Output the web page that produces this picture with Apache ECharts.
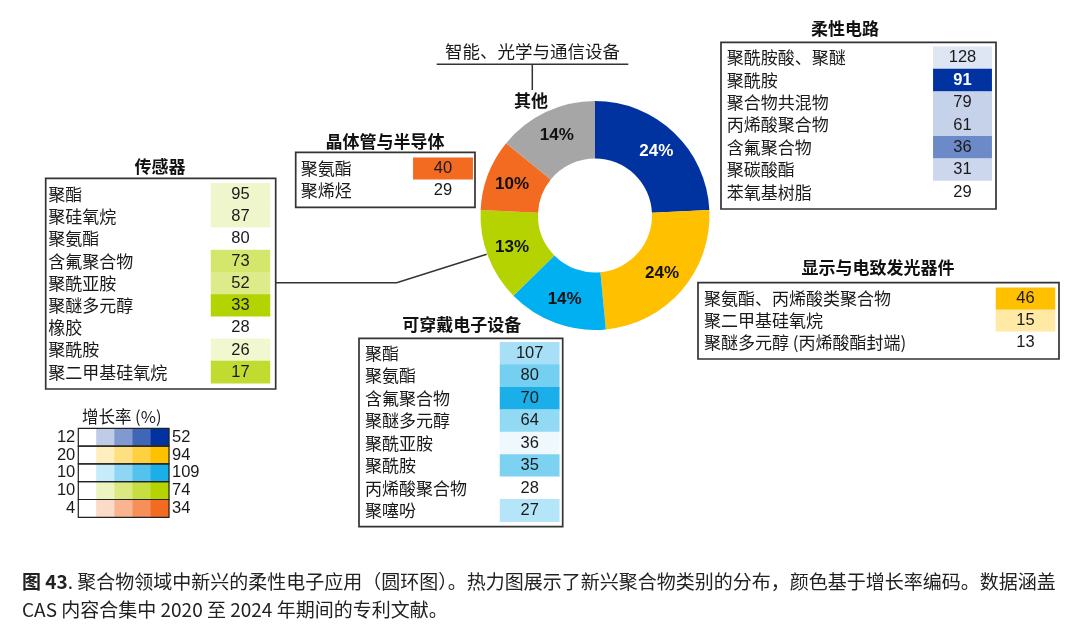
<!DOCTYPE html>
<html lang="zh">
<head>
<meta charset="UTF-8">
<title>聚合物领域中新兴的柔性电子应用</title>
<style>
  * { margin: 0; padding: 0; }
  body { background: #fff; }
  #chart { width: 1080px; height: 631px; }
</style>
</head>
<body>
<div id="chart"></div>
<script src="https://cdn.jsdelivr.net/npm/echarts@6/dist/echarts.min.js"></script>
<script>
// ---- data ----
var donutNames = ['柔性电路', '显示与电致发光器件', '可穿戴电子设备', '传感器', '晶体管与半导体', '其他'];
var donutShares = [24, 24, 14, 13, 10, 14];

var sensorNames = ['聚酯', '聚硅氧烷', '聚氨酯', '含氟聚合物', '聚酰亚胺', '聚醚多元醇', '橡胶', '聚酰胺', '聚二甲基硅氧烷'];
var sensorCounts = [95, 87, 80, 73, 52, 33, 28, 26, 17];
var sensorGrowth = [23, 23, 10, 47, 39, 74, 10, 22, 62];

var transistorNames = ['聚氨酯', '聚烯烃'];
var transistorCounts = [40, 29];
var transistorGrowth = [34, 4];

var flexNames = ['聚酰胺酸、聚醚', '聚酰胺', '聚合物共混物', '丙烯酸聚合物', '含氟聚合物', '聚碳酸酯', '苯氧基树脂'];
var flexCounts = [128, 91, 79, 61, 36, 31, 29];
var flexGrowth = [17, 52, 21, 21, 35, 20, 12];

var displayNames = ['聚氨酯、丙烯酸类聚合物', '聚二甲基硅氧烷', '聚醚多元醇 (丙烯酸酯封端)'];
var displayCounts = [46, 15, 13];
var displayGrowth = [94, 46, 20];

var wearableNames = ['聚酯', '聚氨酯', '含氟聚合物', '聚醚多元醇', '聚酰亚胺', '聚酰胺', '丙烯酸聚合物', '聚噻吩'];
var wearableCounts = [107, 80, 70, 64, 36, 35, 28, 27];
var wearableGrowth = [48, 70, 109, 57, 17, 66, 10, 42];

// growth-rate scale per field (legend rows: flex, display, wearable, sensor, transistor)
var growthMin = [12, 20, 10, 10, 4];
var growthMax = [52, 94, 109, 74, 34];

var caption1 = '图 43';
var caption2 = '. 聚合物领域中新兴的柔性电子应用（圆环图）。热力图展示了新兴聚合物类别的分布，颜色基于增长率编码。数据涵盖';
var caption3 = 'CAS 内容合集中 2020 至 2024 年期间的专利文献。';

// ---- styles ----
var sliceColors = ['#0033A0', '#FFC000', '#00B0F0', '#B4D300', '#F26B21', '#A6A6A6'];
var rampEnd = ['#0033A0', '#FFC000', '#1AAFE8', '#B4D300', '#F26B21'];
var CJK = '"Noto Sans CJK SC", sans-serif';
var NUM = '"Liberation Sans", Arial, sans-serif';
var INK = '#1a1a1a';

var tables = [
  { title: '传感器', names: sensorNames, counts: sensorCounts, growth: sensorGrowth, scale: 3,
    box: [45.7, 178.3, 230, 210.7], cell: [211, 183.3, 59, 200], nameX: 48.3, titleAt: [160, 167] },
  { title: '晶体管与半导体', names: transistorNames, counts: transistorCounts, growth: transistorGrowth, scale: 4,
    box: [295.7, 152.3, 179.3, 55], cell: [413.3, 157.7, 59.4, 44], nameX: 300.7, titleAt: [385, 141.7] },
  { title: '柔性电路', names: flexNames, counts: flexCounts, growth: flexGrowth, scale: 0,
    box: [721, 42.3, 275, 166.7], cell: [933.3, 46.7, 58.4, 156.6], nameX: 726.7, titleAt: [845, 28.3] },
  { title: '显示与电致发光器件', names: displayNames, counts: displayCounts, growth: displayGrowth, scale: 1,
    box: [698, 282.7, 361, 76.3], cell: [996, 287.7, 59, 66], nameX: 704, titleAt: [878, 268] },
  { title: '可穿戴电子设备', names: wearableNames, counts: wearableCounts, growth: wearableGrowth, scale: 2,
    box: [359, 338.3, 203.7, 188.4], cell: [500, 342.3, 59.3, 179.4], nameX: 365, titleAt: [461.7, 325] }
];

var legendBox = [78.3, 428.3, 90.7, 89];

var chart = echarts.init(document.getElementById('chart'));

var grids = [], xAxes = [], yAxes = [], series = [], graphics = [];

tables.forEach(function (t, ti) {
  grids.push({ left: t.cell[0], top: t.cell[1], width: t.cell[2], height: t.cell[3] });
  xAxes.push({ type: 'category', gridIndex: ti, data: [''], show: false });
  yAxes.push({
    type: 'category', gridIndex: ti, data: t.names, inverse: true,
    axisLine: { show: false }, axisTick: { show: false }, splitLine: { show: false },
    axisLabel: { interval: 0, align: 'left', margin: t.cell[0] - t.nameX, fontSize: 17, color: INK, fontFamily: CJK }
  });
  var data = t.names.map(function (n, i) {
    var item = { value: [0, i, t.growth[i], t.counts[i]] };
    var frac = (t.growth[i] - growthMin[t.scale]) / (growthMax[t.scale] - growthMin[t.scale]);
    if (t.scale === 0 && frac > 0.7) item.label = { color: '#fff', fontWeight: 'bold' };
    return item;
  });
  series.push({
    type: 'heatmap', xAxisIndex: ti, yAxisIndex: ti, data: data,
    label: { show: true, fontSize: 16.5, color: INK, fontFamily: NUM, formatter: function (p) { return p.value[3]; } },
    emphasis: { disabled: true }
  });
  graphics.push({
    type: 'rect', shape: { x: t.box[0], y: t.box[1], width: t.box[2], height: t.box[3] },
    style: { fill: 'none', stroke: '#333', lineWidth: 1.7 }, z: 10
  });
  graphics.push({
    type: 'text', x: t.titleAt[0], y: t.titleAt[1],
    style: { text: t.title, align: 'center', verticalAlign: 'middle', fontSize: 17, fontWeight: 'bold', fontFamily: CJK, fill: '#111' }
  });
});

// legend: growth-rate colour ramps
var lg = tables.length;
grids.push({ left: legendBox[0], top: legendBox[1], width: legendBox[2], height: legendBox[3] });
xAxes.push({ type: 'category', gridIndex: lg, data: ['0', '1', '2', '3', '4'], show: false });
var legendRows = ['a', 'b', 'c', 'd', 'e'];
var legendAxisLabel = { interval: 0, fontSize: 16.5, color: INK, fontFamily: NUM, margin: 3 };
yAxes.push({
  type: 'category', gridIndex: lg, data: legendRows, inverse: true, position: 'left',
  axisLine: { show: false }, axisTick: { show: false },
  axisLabel: Object.assign({}, legendAxisLabel, { formatter: function (v, i) { return growthMin[i]; } })
});
yAxes.push({
  type: 'category', gridIndex: lg, data: legendRows, inverse: true, position: 'right',
  axisLine: { show: false }, axisTick: { show: false },
  axisLabel: Object.assign({}, legendAxisLabel, { align: 'left', formatter: function (v, i) { return growthMax[i]; } })
});
growthMin.forEach(function (mn, r) {
  var steps = [0, 1, 2, 3, 4].map(function (k) { return [k, r, mn + k * (growthMax[r] - mn) / 4]; });
  series.push({ type: 'heatmap', xAxisIndex: lg, yAxisIndex: lg, data: steps, emphasis: { disabled: true } });
  graphics.push({
    type: 'rect', shape: { x: legendBox[0], y: legendBox[1] + r * legendBox[3] / 5, width: legendBox[2], height: legendBox[3] / 5 },
    style: { fill: 'none', stroke: '#222', lineWidth: 1.2 }, z: 10
  });
});
graphics.push({
  type: 'text', x: 121.7, y: 416.7,
  style: { text: '增长率 (%)', align: 'center', verticalAlign: 'middle', fontSize: 16.5, fontFamily: CJK, fill: INK }
});

var visualMaps = growthMin.map(function (mn, s) {
  var idx = [];
  tables.forEach(function (t, ti) { if (t.scale === s) idx.push(ti); });
  idx.push(lg + s);
  return {
    type: 'continuous', show: false, min: mn, max: growthMax[s], dimension: 2,
    seriesIndex: idx, inRange: { color: ['#ffffff', rampEnd[s]] }
  };
});

// donut
series.push({
  type: 'pie', center: [595, 215.5], radius: [57, 114.5], startAngle: 90, clockwise: true,
  avoidLabelOverlap: false, emphasis: { disabled: true },
  label: { show: true, position: 'inside', formatter: '{c}%', fontSize: 17, fontWeight: 'bold', fontFamily: NUM },
  labelLine: { show: false },
  data: donutNames.map(function (n, i) {
    return {
      name: n, value: donutShares[i],
      itemStyle: { color: sliceColors[i] },
      label: { color: i === 0 ? '#fff' : '#111' }
    };
  })
});

// connectors and outside labels
graphics.push({
  type: 'text', x: 531, y: 101,
  style: { text: '其他', align: 'center', verticalAlign: 'middle', fontSize: 17, fontWeight: 'bold', fontFamily: CJK, fill: '#111' }
});
graphics.push({
  type: 'text', x: 532.5, y: 51.7,
  style: { text: '智能、光学与通信设备', align: 'center', verticalAlign: 'middle', fontSize: 17.5, fontFamily: CJK, fill: INK }
});
graphics.push({
  type: 'polyline', shape: { points: [[436.7, 64.3], [628.3, 64.3]] },
  style: { stroke: '#333', lineWidth: 1.5, fill: 'none' }
});
graphics.push({
  type: 'polyline', shape: { points: [[532.3, 64.3], [532.3, 90]] },
  style: { stroke: '#333', lineWidth: 1.5, fill: 'none' }
});
graphics.push({
  type: 'polyline', shape: { points: [[275.7, 282.7], [396.7, 282.7], [486.7, 254.3]] },
  style: { stroke: '#333', lineWidth: 1.5, fill: 'none' }
});

var option = {
  animation: false,
  backgroundColor: '#fff',
  title: {
    left: 22, top: 568, padding: 0,
    text: '{b|' + caption1 + '}' + caption2 + '\n' + caption3,
    textStyle: {
      fontSize: 19, fontWeight: 'normal', fontFamily: CJK, color: '#222', lineHeight: 28,
      rich: { b: { fontSize: 19, fontWeight: 'bold', fontFamily: CJK, color: '#222', lineHeight: 28 } }
    }
  },
  grid: grids,
  xAxis: xAxes,
  yAxis: yAxes,
  visualMap: visualMaps,
  series: series,
  graphic: graphics
};

chart.setOption(option);
</script>
</body>
</html>
